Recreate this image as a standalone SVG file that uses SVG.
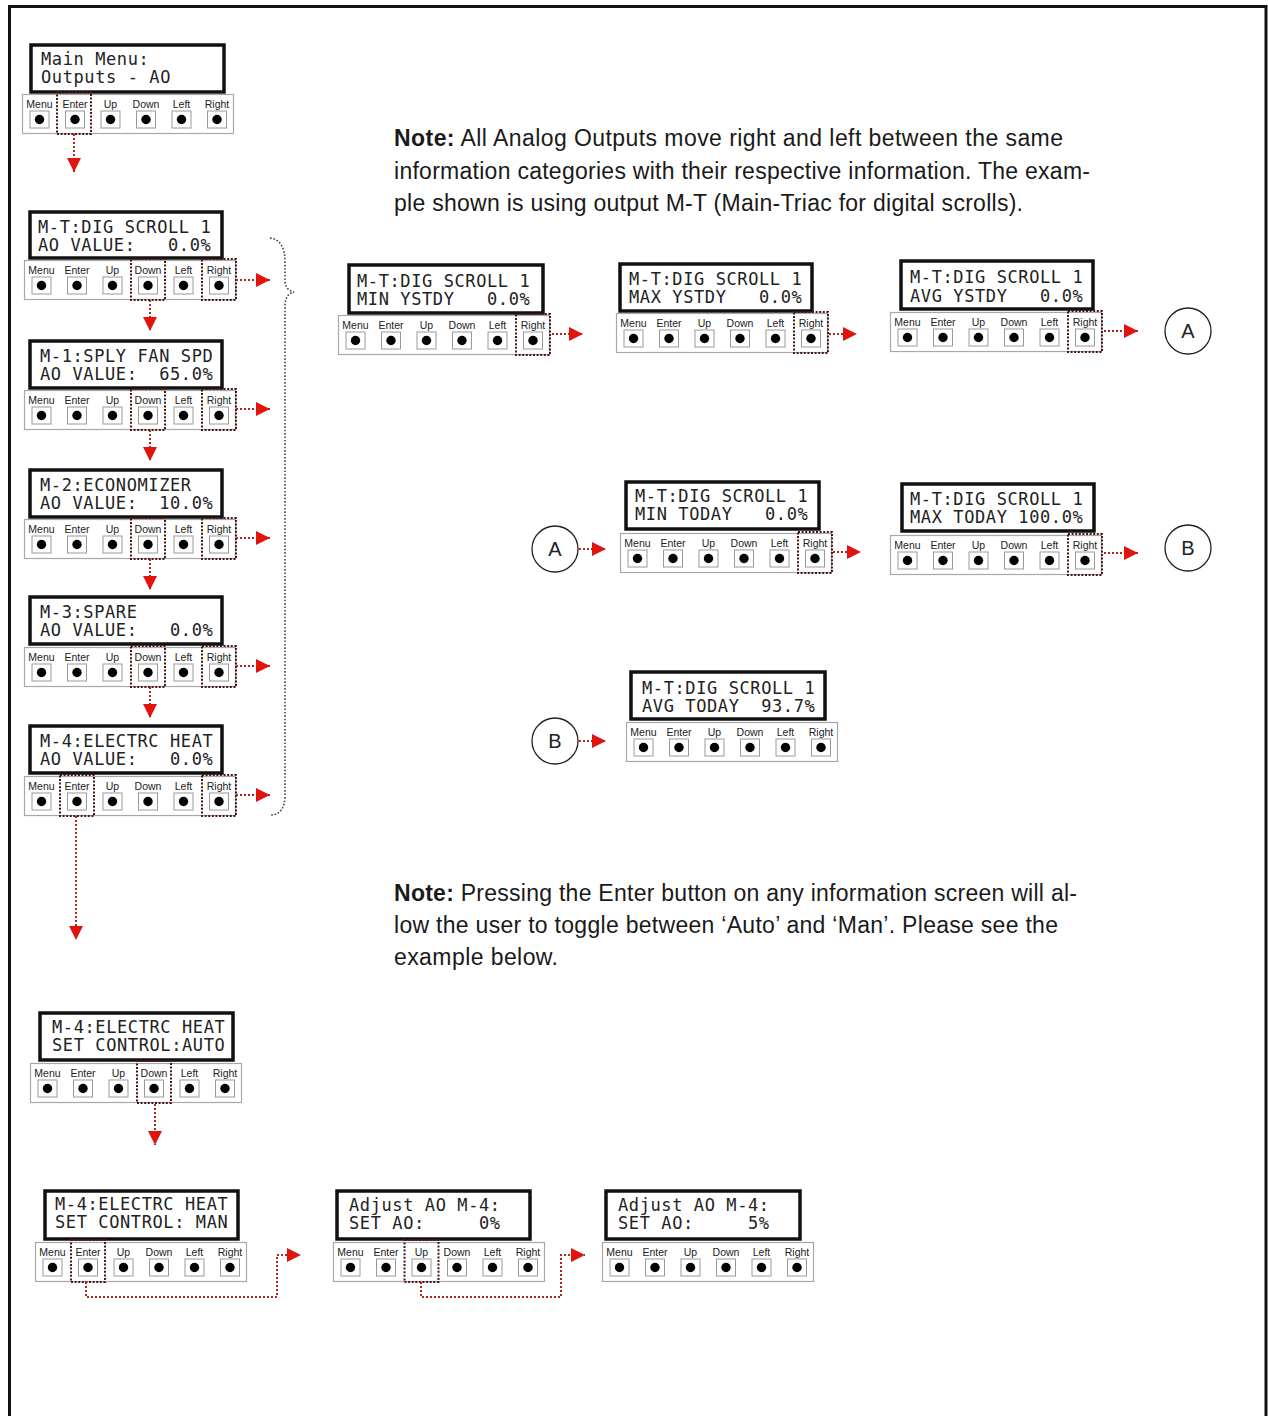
<svg xmlns="http://www.w3.org/2000/svg" xmlns:xlink="http://www.w3.org/1999/xlink" width="1268" height="1416" viewBox="0 0 1268 1416">
<style>
.lcd{fill:#fff;stroke:#111;stroke-width:3.5}
.lcdt{font-family:"DejaVu Sans Mono","Liberation Mono",monospace;font-size:17px;letter-spacing:0.6px;fill:#222;white-space:pre}
.strip{fill:#fff;stroke:#a8a8a8;stroke-width:1.2}
.btn{fill:#fff;stroke:#9a9a9a;stroke-width:1}
.dot{fill:#000}
.lbl{font-family:"Liberation Sans",Arial,sans-serif;font-size:10.5px;fill:#222;text-anchor:middle}
.hl{fill:none;stroke:#4a1414;stroke-width:2;stroke-dasharray:2 1.6}
.con{fill:none;stroke:#b3261e;stroke-width:2;stroke-dasharray:2 2}
.note{font-family:"Liberation Sans",Arial,sans-serif;font-size:23px;fill:#1a1a1a;white-space:pre}
.circ{fill:#fff;stroke:#222;stroke-width:1.3}
.clbl{font-family:"Liberation Sans",Arial,sans-serif;font-size:20px;fill:#222;text-anchor:middle}
.brace{fill:none;stroke:#444;stroke-width:1.6;stroke-dasharray:1.6 1.8}
</style>
<defs>
<marker id="ah" viewBox="0 0 14 14" refX="14" refY="7" markerWidth="14" markerHeight="14" markerUnits="userSpaceOnUse" orient="auto">
<path d="M0,0 L14,7 L0,14 Z" fill="#e0140f"/>
</marker>
<g id="strip">
<rect class="strip" x="0.5" y="0.5" width="211" height="39"/>
<text class="lbl" x="17.5" y="14">Menu</text>
<text class="lbl" x="53" y="14">Enter</text>
<text class="lbl" x="88.5" y="14">Up</text>
<text class="lbl" x="124" y="14">Down</text>
<text class="lbl" x="159.5" y="14">Left</text>
<text class="lbl" x="195" y="14">Right</text>
<rect class="btn" x="8" y="17" width="19" height="17"/>
<rect class="btn" x="43.5" y="17" width="19" height="17"/>
<rect class="btn" x="79" y="17" width="19" height="17"/>
<rect class="btn" x="114.5" y="17" width="19" height="17"/>
<rect class="btn" x="150" y="17" width="19" height="17"/>
<rect class="btn" x="185.5" y="17" width="19" height="17"/>
<circle class="dot" cx="17.5" cy="25.5" r="4.7"/>
<circle class="dot" cx="53" cy="25.5" r="4.7"/>
<circle class="dot" cx="88.5" cy="25.5" r="4.7"/>
<circle class="dot" cx="124" cy="25.5" r="4.7"/>
<circle class="dot" cx="159.5" cy="25.5" r="4.7"/>
<circle class="dot" cx="195" cy="25.5" r="4.7"/>
</g>
</defs>
<rect x="0" y="0" width="1268" height="1416" fill="#fff"/>
<path d="M9.5,1416 V6.5 H1266 V1416" fill="none" stroke="#111" stroke-width="3"/>

<g id="note1" class="note">
<text x="394" y="146" textLength="669"><tspan font-weight="bold">Note:</tspan> All  Analog Outputs move right and left between the same</text>
<text x="394" y="179" textLength="696">information categories with their respective information. The exam-</text>
<text x="394" y="211" textLength="629">ple shown is using output M-T (Main-Triac for digital scrolls).</text>
</g>
<g id="note2" class="note">
<text x="394" y="901" textLength="683"><tspan font-weight="bold">Note:</tspan> Pressing the Enter button on any information screen will al-</text>
<text x="394" y="933" textLength="664">low the user to toggle between ‘Auto’ and ‘Man’. Please see the</text>
<text x="394" y="965" textLength="164">example below.</text>
</g>

<g id="brace">
<path class="brace" d="M270,238 Q285,240 285,262 L285,280 Q285,290 294,292 Q285,294 285,306 L285,795 Q285,815 270,815"/>
</g>

<g id="node-main">
<rect class="lcd" x="31" y="45" width="193" height="47"/>
<text class="lcdt" x="41" y="65">Main Menu:</text>
<text class="lcdt" x="41" y="83">Outputs - AO</text>
<g transform="translate(22,94)"><use href="#strip"/><rect class="hl" x="35" y="-2" width="34" height="42"/></g>
</g>

<g id="node-mt">
<rect class="lcd" x="30" y="212" width="192" height="46"/>
<text class="lcdt" x="38" y="233">M-T:DIG SCROLL 1</text>
<text class="lcdt" x="38" y="251">AO VALUE:   0.0%</text>
<g transform="translate(24,260)"><use href="#strip"/><rect class="hl" x="107" y="-1" width="34" height="41"/><rect class="hl" x="178" y="-1" width="34" height="41"/></g>
</g>

<g id="node-m1">
<rect class="lcd" x="30" y="341" width="192" height="47"/>
<text class="lcdt" x="40" y="362">M-1:SPLY FAN SPD</text>
<text class="lcdt" x="40" y="380">AO VALUE:  65.0%</text>
<g transform="translate(24,390)"><use href="#strip"/><rect class="hl" x="107" y="-1" width="34" height="41"/><rect class="hl" x="178" y="-1" width="34" height="41"/></g>
</g>

<g id="node-m2">
<rect class="lcd" x="30" y="470" width="192" height="47"/>
<text class="lcdt" x="40" y="491">M-2:ECONOMIZER</text>
<text class="lcdt" x="40" y="509">AO VALUE:  10.0%</text>
<g transform="translate(24,519)"><use href="#strip"/><rect class="hl" x="107" y="-1" width="34" height="41"/><rect class="hl" x="178" y="-1" width="34" height="41"/></g>
</g>

<g id="node-m3">
<rect class="lcd" x="30" y="597" width="192" height="47"/>
<text class="lcdt" x="40" y="618">M-3:SPARE</text>
<text class="lcdt" x="40" y="636">AO VALUE:   0.0%</text>
<g transform="translate(24,647)"><use href="#strip"/><rect class="hl" x="107" y="-1" width="34" height="41"/><rect class="hl" x="178" y="-1" width="34" height="41"/></g>
</g>

<g id="node-m4">
<rect class="lcd" x="30" y="726" width="192" height="47"/>
<text class="lcdt" x="40" y="747">M-4:ELECTRC HEAT</text>
<text class="lcdt" x="40" y="765">AO VALUE:   0.0%</text>
<g transform="translate(24,776)"><use href="#strip"/><rect class="hl" x="36" y="-1" width="34" height="41"/><rect class="hl" x="178" y="-1" width="34" height="41"/></g>
</g>

<g id="node-min-ystdy">
<rect class="lcd" x="349" y="265" width="194" height="48"/>
<text class="lcdt" x="357" y="287">M-T:DIG SCROLL 1</text>
<text class="lcdt" x="357" y="305">MIN YSTDY   0.0%</text>
<g transform="translate(338,315)"><use href="#strip"/><rect class="hl" x="178" y="-1" width="34" height="41"/></g>
</g>

<g id="node-max-ystdy">
<rect class="lcd" x="620" y="264" width="192" height="47"/>
<text class="lcdt" x="629" y="285">M-T:DIG SCROLL 1</text>
<text class="lcdt" x="629" y="303">MAX YSTDY   0.0%</text>
<g transform="translate(616,313)"><use href="#strip"/><rect class="hl" x="178" y="-1" width="34" height="41"/></g>
</g>

<g id="node-avg-ystdy">
<rect class="lcd" x="901" y="261" width="192" height="48"/>
<text class="lcdt" x="910" y="283">M-T:DIG SCROLL 1</text>
<text class="lcdt" x="910" y="302">AVG YSTDY   0.0%</text>
<g transform="translate(890,312)"><use href="#strip"/><rect class="hl" x="178" y="-1" width="34" height="41"/></g>
</g>

<g id="node-A1">
<circle class="circ" cx="1188" cy="331" r="23"/>
<text class="clbl" x="1188" y="338">A</text>
</g>

<g id="node-A2">
<circle class="circ" cx="555" cy="549" r="23"/>
<text class="clbl" x="555" y="556">A</text>
</g>

<g id="node-min-today">
<rect class="lcd" x="626" y="482" width="193" height="47"/>
<text class="lcdt" x="635" y="502">M-T:DIG SCROLL 1</text>
<text class="lcdt" x="635" y="520">MIN TODAY   0.0%</text>
<g transform="translate(620,533)"><use href="#strip"/><rect class="hl" x="178" y="-1" width="34" height="41"/></g>
</g>

<g id="node-max-today">
<rect class="lcd" x="902" y="484" width="192" height="47"/>
<text class="lcdt" x="910" y="505">M-T:DIG SCROLL 1</text>
<text class="lcdt" x="910" y="523">MAX TODAY 100.0%</text>
<g transform="translate(890,535)"><use href="#strip"/><rect class="hl" x="178" y="-1" width="34" height="41"/></g>
</g>

<g id="node-B1">
<circle class="circ" cx="1188" cy="548" r="23"/>
<text class="clbl" x="1188" y="555">B</text>
</g>

<g id="node-B2">
<circle class="circ" cx="555" cy="741" r="23"/>
<text class="clbl" x="555" y="748">B</text>
</g>

<g id="node-avg-today">
<rect class="lcd" x="631" y="672" width="194" height="47"/>
<text class="lcdt" x="642" y="694">M-T:DIG SCROLL 1</text>
<text class="lcdt" x="642" y="712">AVG TODAY  93.7%</text>
<g transform="translate(626,722)"><use href="#strip"/></g>
</g>

<g id="node-set-auto">
<rect class="lcd" x="40" y="1013" width="193" height="47"/>
<text class="lcdt" x="52" y="1033">M-4:ELECTRC HEAT</text>
<text class="lcdt" x="52" y="1051">SET CONTROL:AUTO</text>
<g transform="translate(30,1063)"><use href="#strip"/><rect class="hl" x="107" y="-2" width="34" height="42"/></g>
</g>

<g id="node-set-man">
<rect class="lcd" x="45" y="1191" width="193" height="48"/>
<text class="lcdt" x="55" y="1210">M-4:ELECTRC HEAT</text>
<text class="lcdt" x="55" y="1228">SET CONTROL: MAN</text>
<g transform="translate(35,1242)"><use href="#strip"/><rect class="hl" x="36" y="-2" width="34" height="42"/></g>
</g>

<g id="node-adjust-0">
<rect class="lcd" x="337" y="1191" width="193" height="48"/>
<text class="lcdt" x="349" y="1211">Adjust AO M-4:</text>
<text class="lcdt" x="349" y="1229">SET AO:     0%</text>
<g transform="translate(333,1242)"><use href="#strip"/><rect class="hl" x="71.5" y="-2" width="34" height="42"/></g>
</g>

<g id="node-adjust-5">
<rect class="lcd" x="606" y="1191" width="194" height="48"/>
<text class="lcdt" x="618" y="1211">Adjust AO M-4:</text>
<text class="lcdt" x="618" y="1229">SET AO:     5%</text>
<g transform="translate(602,1242)"><use href="#strip"/></g>
</g>

<g id="connectors">
<path class="con" marker-end="url(#ah)" d="M74,134 V172"/>
<path class="con" marker-end="url(#ah)" d="M236,280 H270"/>
<path class="con" marker-end="url(#ah)" d="M150,300 V331"/>
<path class="con" marker-end="url(#ah)" d="M236,409 H270"/>
<path class="con" marker-end="url(#ah)" d="M150,430 V461"/>
<path class="con" marker-end="url(#ah)" d="M236,538 H270"/>
<path class="con" marker-end="url(#ah)" d="M150,559 V590"/>
<path class="con" marker-end="url(#ah)" d="M236,666 H270"/>
<path class="con" marker-end="url(#ah)" d="M150,687 V718"/>
<path class="con" marker-end="url(#ah)" d="M236,795 H270"/>
<path class="con" marker-end="url(#ah)" d="M76,816 V940"/>
<path class="con" marker-end="url(#ah)" d="M552,334 H583"/>
<path class="con" marker-end="url(#ah)" d="M829,334 H857"/>
<path class="con" marker-end="url(#ah)" d="M1104,331 H1138"/>
<path class="con" marker-end="url(#ah)" d="M579,549 H606"/>
<path class="con" marker-end="url(#ah)" d="M833,552 H861"/>
<path class="con" marker-end="url(#ah)" d="M1104,553 H1138"/>
<path class="con" marker-end="url(#ah)" d="M579,741 H606"/>
<path class="con" marker-end="url(#ah)" d="M155,1104 V1145"/>
<path class="con" marker-end="url(#ah)" d="M86,1282 V1297 H277 V1255 H301"/>
<path class="con" marker-end="url(#ah)" d="M421,1282 V1297 H561 V1255 H585"/>
</g>
</svg>
